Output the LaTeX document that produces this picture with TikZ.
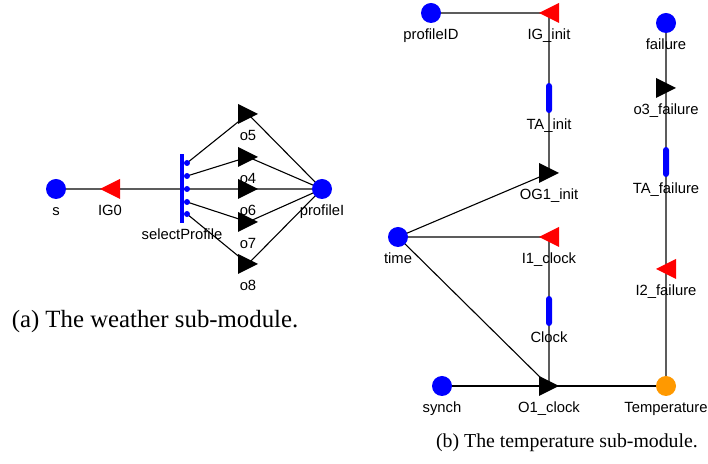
\documentclass[tikz,border=0pt]{standalone}
\usepackage{fontspec}
\setmainfont{Liberation Serif}
\setsansfont{Liberation Sans}
\usetikzlibrary{backgrounds}
\definecolor{portblue}{HTML}{0000FF}
\definecolor{inred}{HTML}{FF0000}
\definecolor{sinkorange}{HTML}{FF9900}
\definecolor{wiregray}{HTML}{5C5C5C}
\tikzset{
  lbl/.style={font=\sffamily\fontsize{7.4}{8}\selectfont, inner sep=0pt, text height=5.3pt, text depth=1.5pt},
  port/.style={circle, fill=portblue, minimum size=10pt, inner sep=0pt, label={[lbl,label distance=2.5pt]below:#1}},
  sink/.style={port=#1, fill=sinkorange},
  outtri/.style={minimum size=10pt, inner sep=0pt, label={[lbl,label distance=2.5pt]below:#1},
    path picture={\fill (path picture bounding box.north west) -- (path picture bounding box.east)
      -- (path picture bounding box.south west) -- cycle;}},
  intri/.style={minimum size=10pt, inner sep=0pt, label={[lbl,label distance=2.5pt]below:#1},
    path picture={\fill[inred] (path picture bounding box.north east) -- (path picture bounding box.west)
      -- (path picture bounding box.south east) -- cycle;}},
  transbar/.style={fill=portblue, rounded corners=1.5pt, minimum width=3pt, minimum height=15pt, inner sep=0pt,
    label={[lbl,label distance=2.5pt]below:#1}},
  selbar/.style={fill=portblue, minimum width=2pt, minimum height=34.5pt, inner sep=0pt,
    label={[lbl,label distance=2.5pt]below:#1}},
  seldot/.style={circle, fill=portblue, minimum size=3pt, inner sep=0pt},
  wire/.style={draw=wiregray, line width=1pt},
  link/.style={draw=black, line width=.55pt},
  caption/.style={inner sep=0pt}
}

\begin{document}
\begin{tikzpicture}[x=.5pt,y=-.5pt]
\useasboundingbox (0,0) rectangle (708,464);

% Weather sub-module
\node[port=s] (s) at (56,189) {};
\node[intri=IG0] (IG0) at (110,189) {};
\node[selbar=selectProfile] (sel) at (182,189) {};
\foreach \i/\y in {1/163,2/176,3/189,4/202,5/214}
  \node[seldot] (sp\i) at (187,\y) {};
\node[outtri=o5] (o5) at (248,114) {};
\node[outtri=o4] (o4) at (248,157) {};
\node[outtri=o6] (o6) at (248,189) {};
\node[outtri=o7] (o7) at (248,222) {};
\node[outtri=o8] (o8) at (248,264) {};
\node[port=profileI] (profileI) at (322,189) {};
\node[caption, font=\fontsize{12.4}{14}\selectfont] (capA) at (155,322) {(a) The weather sub-module.};

% Temperature sub-module
\node[port=profileID] (profileID) at (431,13) {};
\node[intri=IG\_init] (igInit) at (549,13) {};
\node[transbar=TA\_init] (taInit) at (549,98) {};
\node[outtri=OG1\_init] (og1Init) at (549,173) {};
\node[port=time] (time) at (398,237) {};
\node[intri=I1\_clock] (i1Clock) at (549,237) {};
\node[transbar=Clock] (clock) at (549,311) {};
\node[port=synch] (synch) at (442,386) {};
\node[outtri=O1\_clock] (o1Clock) at (549,386) {};
\node[port=failure] (failure) at (666,23) {};
\node[outtri=o3\_failure] (o3Failure) at (666,88) {};
\node[transbar=TA\_failure] (taFailure) at (666,162) {};
\node[intri=I2\_failure] (i2Failure) at (666,269) {};
\node[sink=Temperature] (temperature) at (666,386) {};
\node[caption, font=\fontsize{9.9}{12}\selectfont] (capB) at (567,443) {(b) The temperature sub-module.};

% Connections
\begin{scope}[on background layer]
\draw[wire] (s.center) -- (IG0.center) -- (sel.center) -- (o6.center) -- (profileI.center);
\foreach \i/\o in {1/o5,2/o4,4/o7,5/o8}
  \draw[link] (sp\i.center) -- (\o.center) -- (profileI.center);
\draw[wire] (profileID.center) -- (igInit.center) -- (taInit.center) -- (og1Init.center);
\draw[link] (time.center) -- (og1Init.center);
\draw[wire] (time.center) -- (i1Clock.center) -- (clock.center) -- (o1Clock.center);
\draw[link] (time.center) -- (o1Clock.center);
\draw[link, line width=.8pt] (synch.center) -- (o1Clock.center) -- (temperature.center);
\draw[wire] (failure.center) -- (o3Failure.center) -- (taFailure.center) -- (i2Failure.center) -- (temperature.center);
\end{scope}

\end{tikzpicture}
\end{document}
